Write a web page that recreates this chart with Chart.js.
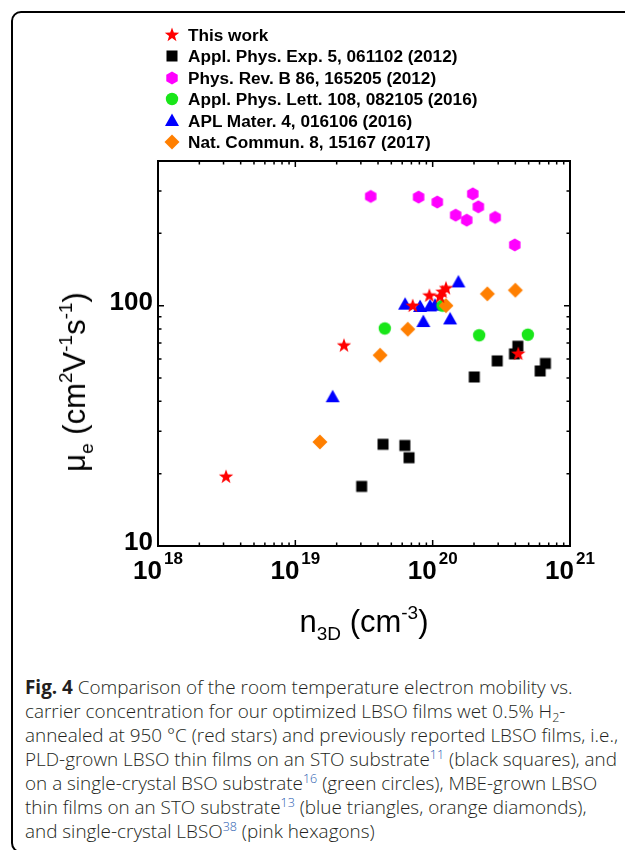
<!DOCTYPE html>
<html>
<head>
<meta charset="utf-8">
<script src="https://cdn.jsdelivr.net/npm/chart.js@4.4.1/dist/chart.umd.min.js"></script>
<style>
  html, body { margin: 0; padding: 0; background: #fff; width: 625px; height: 850px; overflow: hidden; position: relative; }
  #marco { position: absolute; left: 11px; top: 11px; width: 650px; height: 838px; border: 2px solid #000; border-radius: 10px; }
  #grafica { position: absolute; left: 0; top: 0; }
  .leg { position: absolute; left: 0; width: 625px; height: 20px; font: bold 17.2px "Liberation Sans", Arial, sans-serif; line-height: 20px; color: #000; white-space: nowrap; }
  .leg canvas { position: absolute; left: 162px; top: 0; }
  .leg span { position: absolute; left: 188px; top: 0; }
  .titulo { position: absolute; font: 31px "Liberation Sans", Arial, sans-serif; color: #000; white-space: nowrap; line-height: 40px; }
  .titulo sub, .titulo sup { font-size: 19px; vertical-align: baseline; position: relative; line-height: 0; }
  .titulo sub { top: 8px; }
  .titulo sup { top: -13px; }
  #xtitulo { left: 264px; width: 200px; text-align: center; top: 602px; }
  #ytitulo { left: 75px; top: 382px; transform: translate(-50%, -50%) rotate(-90deg); }
  #pie { position: absolute; left: 25px; top: 675px; width: 600px; font: 18.9px "Open Sans", sans-serif; font-weight: 300; line-height: 24px; color: #231f20; white-space: nowrap; }
  #pie b { font-weight: 700; }
  #pie sup { color: #2a5db0; font-size: 12.5px; vertical-align: baseline; position: relative; top: -7px; line-height: 0; }
  #pie sub { font-size: 12.5px; vertical-align: baseline; position: relative; top: 4px; line-height: 0; }
</style>
</head>
<body>
<div id="marco"></div>
<canvas id="grafica" width="625" height="650"></canvas>
<div id="leyenda"></div>
<div class="titulo" id="xtitulo">n<sub>3D</sub> (cm<sup>-3</sup>)</div>
<div class="titulo" id="ytitulo">μ<sub>e</sub> (cm<sup>2</sup>V<sup>-1</sup>s<sup>-1</sup>)</div>
<div id="pie"><b>Fig. 4</b> Comparison of the room temperature electron mobility vs.<br>carrier concentration for our optimized LBSO films wet 0.5% H<sub>2</sub>-<br>annealed at 950 °C (red stars) and previously reported LBSO films, i.e.,<br>PLD-grown LBSO thin films on an STO substrate<sup>11</sup> (black squares), and<br>on a single-crystal BSO substrate<sup>16</sup> (green circles), MBE-grown LBSO<br>thin films on an STO substrate<sup>13</sup> (blue triangles, orange diamonds),<br>and single-crystal LBSO<sup>38</sup> (pink hexagons)</div>
<script>
// datos (n en cm^-3, mu en cm2/Vs)
const thisWorkN = [3.13e18, 2.26e19, 7.16e19, 9.46e19, 1.13e20, 1.18e20, 1.25e20, 4.2e20];
const thisWorkMu = [19.4, 68.2, 99.7, 110, 109, 114, 118, 63];

const apeN = [3.04e19, 4.35e19, 6.27e19, 6.73e19, 2.01e20, 2.95e20, 3.94e20, 4.17e20, 6.06e20, 6.62e20];
const apeMu = [17.7, 26.5, 26.2, 23.3, 50.5, 58.9, 63, 67.8, 53.5, 57.5];

const prbN = [3.54e19, 7.9e19, 1.08e20, 1.47e20, 1.77e20, 1.96e20, 2.15e20, 2.85e20, 3.96e20];
const prbMu = [285, 283, 270, 238, 227, 292, 258, 233, 179];

const aplN = [4.48e19, 1.18e20, 2.18e20, 4.93e20];
const aplMu = [80.4, 100, 75.3, 75.7];

const aplmN = [1.87e19, 6.3e19, 8.1e19, 9.57e19, 1.04e20, 8.55e19, 1.34e20, 1.54e20];
const aplmMu = [41.6, 101, 98.8, 99.3, 100, 85.5, 87.7, 125];

const ncN = [1.51e19, 4.14e19, 6.59e19, 1.25e20, 2.5e20, 4.0e20];
const ncMu = [27.1, 62.2, 79.8, 100, 112, 116];

const nombres = [
  "This work",
  "Appl. Phys. Exp. 5, 061102 (2012)",
  "Phys. Rev. B 86, 165205 (2012)",
  "Appl. Phys. Lett. 108, 082105 (2016)",
  "APL Mater. 4, 016106 (2016)",
  "Nat. Commun. 8, 15167 (2017)"
];

const xTicks = [1e18, 1e19, 1e20, 1e21];
const yTicks = [10, 100];

// marcadores dibujados a mano (Chart.js no tiene hexagono ni estrella rellena)
function poligono(g, pts) {
  g.beginPath();
  pts.forEach(p => g.lineTo(p[0], p[1]));
  g.closePath();
  g.fill();
}
const formas = {
  estrella: g => {
    const pts = [];
    for (let i = 0; i < 10; i++) {
      const r = i % 2 ? 3.1 : 7.6;
      const a = -Math.PI / 2 + i * Math.PI / 5;
      pts.push([r * Math.cos(a), r * Math.sin(a)]);
    }
    g.fillStyle = "#ff0000"; poligono(g, pts);
  },
  cuadrado: g => { g.fillStyle = "#000000"; g.fillRect(-5.5, -5.5, 11, 11); },
  hexagono: g => {
    const pts = [];
    for (let i = 0; i < 6; i++) {
      const a = -Math.PI / 2 + i * Math.PI / 3;
      pts.push([6.6 * Math.cos(a), 6.6 * Math.sin(a)]);
    }
    g.fillStyle = "#ff00ff"; poligono(g, pts);
  },
  circulo: g => { g.fillStyle = "#19e619"; g.beginPath(); g.arc(0, 0, 6.2, 0, Math.PI * 2); g.fill(); },
  triangulo: g => { g.fillStyle = "#0000ff"; poligono(g, [[0, -7.5], [7, 5], [-7, 5]]); },
  rombo: g => { g.fillStyle = "#ff7f00"; poligono(g, [[0, -7.5], [7.5, 0], [0, 7.5], [-7.5, 0]]); }
};
function marcador(nombre) {
  const c = document.createElement("canvas");
  c.width = 20; c.height = 20;
  const g = c.getContext("2d");
  g.translate(10, 10);
  formas[nombre](g);
  return c;
}
const estilos = ["estrella", "cuadrado", "hexagono", "circulo", "triangulo", "rombo"];

// leyenda en html
const leyenda = document.getElementById("leyenda");
const filasY = [35, 56, 77.5, 99, 120.5, 142];
nombres.forEach((n, i) => {
  const fila = document.createElement("div");
  fila.className = "leg";
  fila.style.top = (filasY[i] - 10) + "px";
  fila.appendChild(marcador(estilos[i]));
  const s = document.createElement("span");
  s.textContent = n;
  fila.appendChild(s);
  leyenda.appendChild(fila);
});

const puntos = (xs, ys) => xs.map((v, i) => ({ x: v, y: ys[i] }));

// ejes tipo caja con ticks hacia adentro y etiquetas 10^n
const ejes = {
  id: "ejes",
  afterDatasetsDraw(chart) {
    const { ctx, chartArea: a, scales: { x, y } } = chart;
    ctx.save();
    ctx.strokeStyle = "#000";
    ctx.lineWidth = 1.5;
    ctx.beginPath();
    for (let e = 18; e < 21; e++) {
      for (let k = 1; k <= 9; k++) {
        const px = x.getPixelForValue(k * Math.pow(10, e));
        const len = k === 1 ? 6 : 3.5;
        ctx.moveTo(px, a.bottom); ctx.lineTo(px, a.bottom - len);
        ctx.moveTo(px, a.top); ctx.lineTo(px, a.top + len);
      }
    }
    for (let e = 1; e < 3; e++) {
      for (let k = 1; k <= 9; k++) {
        const v = k * Math.pow(10, e);
        if (v > y.max) break;
        const py = y.getPixelForValue(v);
        const len = k === 1 ? 6 : 3.5;
        ctx.moveTo(a.left, py); ctx.lineTo(a.left + len, py);
        ctx.moveTo(a.right, py); ctx.lineTo(a.right - len, py);
      }
    }
    ctx.stroke();
    ctx.lineWidth = 2;
    ctx.strokeRect(a.left, a.top, a.right - a.left, a.bottom - a.top);

    ctx.fillStyle = "#000";
    ctx.textBaseline = "alphabetic";
    xTicks.forEach(v => {
      const px = x.getPixelForValue(v);
      const exp = String(Math.round(Math.log10(v)));
      ctx.font = "bold 26px 'Liberation Sans', Arial, sans-serif";
      const w1 = ctx.measureText("10").width;
      ctx.font = "bold 17px 'Liberation Sans', Arial, sans-serif";
      const w2 = ctx.measureText(exp).width;
      const x0 = px - (w1 + 2 + w2) / 2;
      ctx.textAlign = "left";
      ctx.font = "bold 26px 'Liberation Sans', Arial, sans-serif";
      ctx.fillText("10", x0, a.bottom + 33);
      ctx.font = "bold 17px 'Liberation Sans', Arial, sans-serif";
      ctx.fillText(exp, x0 + w1 + 2, a.bottom + 18);
    });
    ctx.font = "bold 26px 'Liberation Sans', Arial, sans-serif";
    ctx.textAlign = "right";
    ctx.textBaseline = "middle";
    yTicks.forEach(v => {
      ctx.fillText(String(v), a.left - 5, y.getPixelForValue(v) - 3);
    });
    ctx.restore();
  }
};

const ctx = document.getElementById("grafica").getContext("2d");
new Chart(ctx, {
  type: "scatter",
  data: {
    datasets: [
      { label: nombres[0], data: puntos(thisWorkN, thisWorkMu), pointStyle: marcador("estrella"), order: 0 },
      { label: nombres[1], data: puntos(apeN, apeMu), pointStyle: marcador("cuadrado"), order: 5 },
      { label: nombres[2], data: puntos(prbN, prbMu), pointStyle: marcador("hexagono"), order: 4 },
      { label: nombres[3], data: puntos(aplN, aplMu), pointStyle: marcador("circulo"), order: 2 },
      { label: nombres[4], data: puntos(aplmN, aplmMu), pointStyle: marcador("triangulo"), order: 3 },
      { label: nombres[5], data: puntos(ncN, ncMu), pointStyle: marcador("rombo"), order: 1 }
    ]
  },
  options: {
    responsive: false,
    animation: false,
    devicePixelRatio: 1,
    layout: { padding: { left: 158, top: 161, right: 55, bottom: 104 } },
    scales: {
      x: {
        type: "logarithmic", min: 1e18, max: 1e21,
        ticks: { display: false },
        grid: { display: false, drawTicks: false },
        border: { display: false }
      },
      y: {
        type: "logarithmic", min: 10, max: 400,
        ticks: { display: false },
        grid: { display: false, drawTicks: false },
        border: { display: false }
      }
    },
    plugins: {
      legend: { display: false },
      tooltip: { enabled: false }
    }
  },
  plugins: [ejes]
});
</script>
</body>
</html>
